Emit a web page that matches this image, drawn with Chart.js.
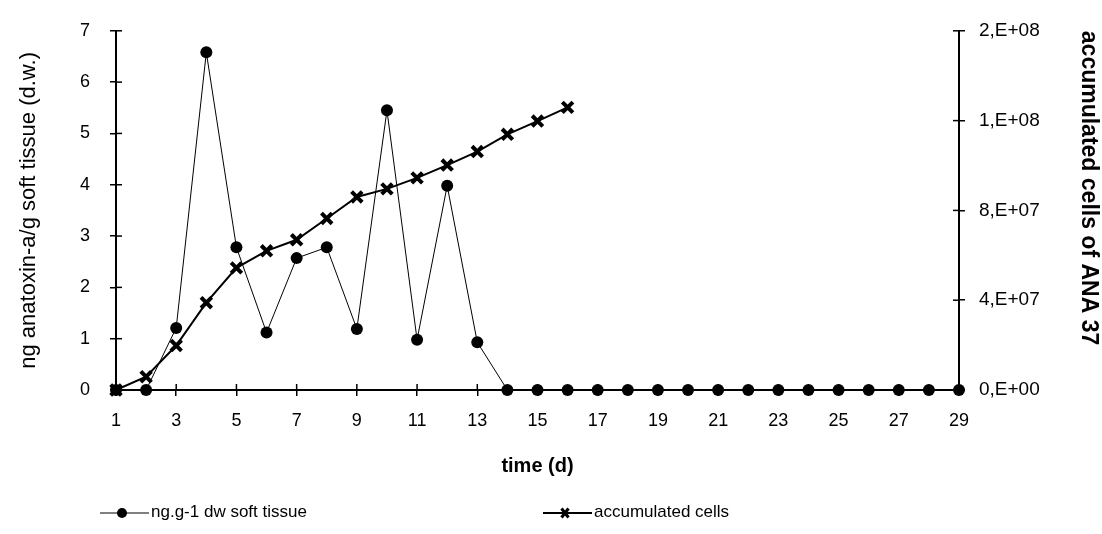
<!DOCTYPE html>
<html>
<head>
<meta charset="utf-8">
<script src="https://cdn.jsdelivr.net/npm/chart.js@4.4.1/dist/chart.umd.min.js"></script>
<style>
  html, body { margin: 0; padding: 0; background: #fff; }
  #wrap { width: 1102px; height: 534px; }
</style>
</head>
<body>
<div id="wrap"><canvas id="chart" width="1102" height="534"></canvas></div>
<script>
// days of the experiment
const days = [1, 2, 3, 4, 5, 6, 7, 8, 9, 10, 11, 12, 13, 14, 15, 16, 17, 18, 19, 20, 21, 22, 23, 24, 25, 26, 27, 28, 29];
// ng anatoxin-a / g soft tissue (d.w.)
const anatoxin = [0, 0, 1.21, 6.58, 2.78, 1.12, 2.57, 2.78, 1.19, 5.45, 0.98, 3.98, 0.93, 0, 0, 0, 0, 0, 0, 0, 0, 0, 0, 0, 0, 0, 0, 0, 0];
// accumulated cells of ANA 37 (only measured up to day 16)
const cellDays = [1, 2, 3, 4, 5, 6, 7, 8, 9, 10, 11, 12, 13, 14, 15, 16];
const cells = [0, 5.9e6, 19.8e6, 38.9e6, 54.4e6, 62.0e6, 66.9e6, 76.4e6, 86.0e6, 89.6e6, 94.5e6, 100.2e6, 106.2e6, 113.9e6, 119.8e6, 125.9e6];

const xTicks = [1, 3, 5, 7, 9, 11, 13, 15, 17, 19, 21, 23, 25, 27, 29];
const leftTicks = [0, 1, 2, 3, 4, 5, 6, 7];
const rightTicks = [0, 4e7, 8e7, 1.2e8, 1.6e8];
const rightTickLabels = ['0,E+00', '4,E+07', '8,E+07', '1,E+08', '2,E+08'];

const FONT = "'Liberation Sans', Arial, Helvetica, sans-serif";

// small tick marks that also reach into the plot (the axes have crossing ticks)
const crossTicks = {
    id: 'crossTicks',
    afterDatasetsDraw(chart) {
        const ctx = chart.ctx;
        ctx.save();
        ctx.strokeStyle = '#000';
        ctx.lineWidth = 1.5;
        ['x', 'y', 'y1'].forEach(id => {
            const s = chart.scales[id];
            s.ticks.forEach(t => {
                const p = s.getPixelForValue(t.value);
                ctx.beginPath();
                if (id === 'x') {
                    ctx.moveTo(p, s.top);
                    ctx.lineTo(p, s.top - 6);
                } else if (id === 'y') {
                    ctx.moveTo(s.right, p);
                    ctx.lineTo(s.right + 6, p);
                } else {
                    ctx.moveTo(s.left, p);
                    ctx.lineTo(s.left - 6, p);
                }
                ctx.stroke();
            });
        });
        ctx.restore();
    }
};

// legend: line with the marker in the middle, then the label
const lineLegend = {
    id: 'lineLegend',
    afterDraw(chart) {
        const ctx = chart.ctx;
        const starts = [100, 543];
        const y = 513;
        ctx.save();
        chart.data.datasets.forEach((ds, i) => {
            const x0 = starts[i];
            ctx.strokeStyle = '#000';
            ctx.fillStyle = '#000';
            ctx.lineWidth = ds.borderWidth;
            ctx.beginPath();
            ctx.moveTo(x0, y);
            ctx.lineTo(x0 + 49, y);
            ctx.stroke();
            const mx = x0 + 22;
            if (ds.pointStyle === 'circle') {
                ctx.beginPath();
                ctx.arc(mx, y, 5, 0, Math.PI * 2);
                ctx.fill();
            } else {
                ctx.lineWidth = 3;
                ctx.beginPath();
                ctx.moveTo(mx - 3.5, y - 4.5);
                ctx.lineTo(mx + 3.5, y + 4.5);
                ctx.moveTo(mx + 3.5, y - 4.5);
                ctx.lineTo(mx - 3.5, y + 4.5);
                ctx.stroke();
            }
            ctx.font = '17px ' + FONT;
            ctx.textBaseline = 'middle';
            ctx.textAlign = 'left';
            ctx.fillText(ds.label, x0 + 51, y - 1);
        });
        ctx.restore();
    }
};

const ctx = document.getElementById('chart').getContext('2d');
new Chart(ctx, {
    type: 'line',
    data: {
        datasets: [
            {
                label: 'ng.g-1 dw soft tissue',
                data: days.map((d, i) => ({ x: d, y: anatoxin[i] })),
                yAxisID: 'y',
                borderColor: '#000',
                backgroundColor: '#000',
                borderWidth: 1,
                pointStyle: 'circle',
                pointRadius: 6,
                pointBorderWidth: 0,
                tension: 0,
                clip: false
            },
            {
                label: 'accumulated cells',
                data: cellDays.map((d, i) => ({ x: d, y: cells[i] })),
                yAxisID: 'y1',
                borderColor: '#000',
                backgroundColor: '#000',
                borderWidth: 2,
                pointStyle: 'crossRot',
                pointRadius: 7.5,
                pointBorderWidth: 4,
                tension: 0,
                clip: false
            }
        ]
    },
    options: {
        responsive: false,
        animation: false,
        layout: { padding: { left: 0, right: 0, top: 27, bottom: 54 } },
        plugins: {
            legend: { display: false },
            tooltip: { enabled: false }
        },
        scales: {
            x: {
                type: 'linear',
                position: 'bottom',
                min: 1,
                max: 29,
                afterBuildTicks: s => { s.ticks = xTicks.map(v => ({ value: v })); },
                afterFit: s => { s.height = 90; },
                grid: { drawOnChartArea: false, tickLength: 6, color: '#000', lineWidth: 1.5 },
                border: { color: '#000', width: 2 },
                ticks: { color: '#000', font: { family: FONT, size: 18 }, padding: 14, maxRotation: 0 },
                title: {
                    display: true,
                    text: 'time (d)',
                    color: '#000',
                    font: { family: FONT, size: 20, weight: 'bold' },
                    padding: { top: 0, bottom: 2 }
                }
            },
            y: {
                position: 'left',
                min: 0,
                max: 7,
                afterBuildTicks: s => { s.ticks = leftTicks.map(v => ({ value: v })); },
                afterFit: s => { s.width = 116; },
                grid: { drawOnChartArea: false, tickLength: 6, color: '#000', lineWidth: 1.5 },
                border: { color: '#000', width: 2 },
                ticks: { color: '#000', font: { family: FONT, size: 18 }, padding: 20 },
                title: {
                    display: true,
                    text: 'ng anatoxin-a/g soft tissue (d.w.)',
                    color: '#000',
                    font: { family: FONT, size: 22 },
                    padding: { top: 16, bottom: 0 }
                }
            },
            y1: {
                position: 'right',
                min: 0,
                max: 1.6e8,
                afterBuildTicks: s => { s.ticks = rightTicks.map(v => ({ value: v })); },
                afterFit: s => { s.width = 143; },
                grid: { drawOnChartArea: false, tickLength: 6, color: '#000', lineWidth: 1.5 },
                border: { color: '#000', width: 2 },
                ticks: {
                    color: '#000',
                    font: { family: FONT, size: 19 },
                    padding: 14,
                    callback: (v, i) => rightTickLabels[i]
                },
                title: {
                    display: true,
                    text: 'accumulated cells of ANA 37',
                    align: 'end',
                    color: '#000',
                    font: { family: FONT, size: 23, weight: 'bold' },
                    padding: { top: 0, bottom: 0 }
                }
            }
        }
    },
    plugins: [crossTicks, lineLegend]
});
</script>
</body>
</html>
